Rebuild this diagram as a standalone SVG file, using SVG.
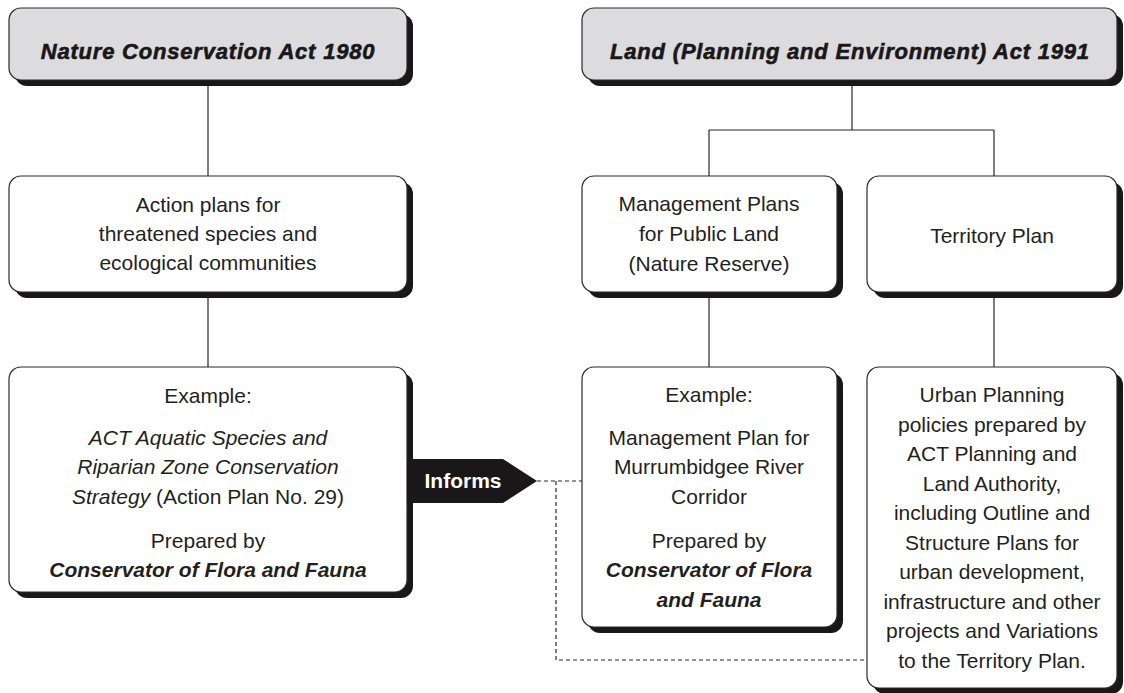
<svg xmlns="http://www.w3.org/2000/svg" width="1124" height="693" viewBox="0 0 1124 693">
<style>
.shadow{fill:#1a1718;}
.box{fill:#ffffff;stroke:#2b2829;stroke-width:1.2;}
.title{fill:#dcdcde;stroke:#2b2829;stroke-width:1.2;}
.tt{font-family:"Liberation Sans",Arial,sans-serif;font-size:22px;font-weight:bold;font-style:italic;letter-spacing:0.8px;fill:#1a1718;stroke:#1a1718;stroke-width:0.6;text-anchor:middle;}
.t{font-family:"Liberation Sans",Arial,sans-serif;font-size:21px;fill:#231f20;text-anchor:middle;}
.i{font-style:italic;}
.bi{font-style:italic;font-weight:bold;}
.line{stroke:#2b2829;stroke-width:1.2;fill:none;}
.dash{stroke:#2b2829;stroke-width:1.2;fill:none;stroke-dasharray:4 3;}
</style>
<rect width="1124" height="693" fill="#ffffff"/>
<g id="connectors">
<path class="line" d="M208,80 V176 M208,292 V367 M852,80 V130 M709,130 H994 M709,130 V176 M994,130 V176 M709,292 V367 M994,292 V367"/>
<path class="dash" d="M537,481 H582 M556,481 V660 H867"/>
</g>
<g id="nca">
<rect class="shadow" x="15" y="14" width="398" height="72" rx="12"/>
<rect class="title" x="9" y="8" width="398" height="72" rx="12"/>
<text class="tt" x="208" y="59">Nature Conservation Act 1980</text>
</g>
<g id="lpea">
<rect class="shadow" x="588" y="14" width="535" height="72" rx="12"/>
<rect class="title" x="582" y="8" width="535" height="72" rx="12"/>
<text class="tt" x="850" y="59">Land (Planning and Environment) Act 1991</text>
</g>
<g id="action-plans">
<rect class="shadow" x="15" y="182" width="398" height="116" rx="12"/>
<rect class="box" x="9" y="176" width="398" height="116" rx="12"/>
<text class="t" x="208" y="212">Action plans for</text>
<text class="t" x="208" y="241">threatened species and</text>
<text class="t" x="208" y="270">ecological communities</text>
</g>
<g id="management-plans">
<rect class="shadow" x="588" y="182" width="255" height="116" rx="12"/>
<rect class="box" x="582" y="176" width="255" height="116" rx="12"/>
<text class="t" x="709" y="211">Management Plans</text>
<text class="t" x="709" y="241">for Public Land</text>
<text class="t" x="709" y="271">(Nature Reserve)</text>
</g>
<g id="territory-plan">
<rect class="shadow" x="873" y="182" width="250" height="116" rx="12"/>
<rect class="box" x="867" y="176" width="250" height="116" rx="12"/>
<text class="t" x="992" y="243">Territory Plan</text>
</g>
<g id="example-action">
<rect class="shadow" x="15" y="373" width="398" height="225" rx="12"/>
<rect class="box" x="9" y="367" width="398" height="225" rx="12"/>
<text class="t" x="208" y="403">Example:</text>
<text class="t i" x="208" y="445">ACT Aquatic Species and</text>
<text class="t i" x="208" y="474">Riparian Zone Conservation</text>
<text class="t" x="208" y="504"><tspan class="i">Strategy</tspan> (Action Plan No. 29)</text>
<text class="t" x="208" y="548">Prepared by</text>
<text class="t bi" x="208" y="577">Conservator of Flora and Fauna</text>
</g>
<g id="informs">
<polygon fill="#1a1718" points="407,459 503,459 537,481 503,503 407,503"/>
<text x="463" y="488" font-family="'Liberation Sans',Arial,sans-serif" font-size="21" font-weight="bold" fill="#ffffff" text-anchor="middle">Informs</text>
</g>
<g id="example-management">
<rect class="shadow" x="588" y="373" width="255" height="260" rx="12"/>
<rect class="box" x="582" y="367" width="255" height="260" rx="12"/>
<text class="t" x="709" y="402">Example:</text>
<text class="t" x="709" y="445">Management Plan for</text>
<text class="t" x="709" y="474">Murrumbidgee River</text>
<text class="t" x="709" y="504">Corridor</text>
<text class="t" x="709" y="548">Prepared by</text>
<text class="t bi" x="709" y="577">Conservator of Flora</text>
<text class="t bi" x="709" y="607">and Fauna</text>
</g>
<g id="urban-planning">
<rect class="shadow" x="873" y="373" width="250" height="321" rx="12"/>
<rect class="box" x="867" y="367" width="250" height="321" rx="12"/>
<text class="t" x="992" y="402">Urban Planning</text>
<text class="t" x="992" y="432">policies prepared by</text>
<text class="t" x="992" y="461">ACT Planning and</text>
<text class="t" x="992" y="491">Land Authority,</text>
<text class="t" x="992" y="520">including Outline and</text>
<text class="t" x="992" y="550">Structure Plans for</text>
<text class="t" x="992" y="579">urban development,</text>
<text class="t" x="992" y="609">infrastructure and other</text>
<text class="t" x="992" y="638">projects and Variations</text>
<text class="t" x="992" y="668">to the Territory Plan.</text>
</g>
</svg>
